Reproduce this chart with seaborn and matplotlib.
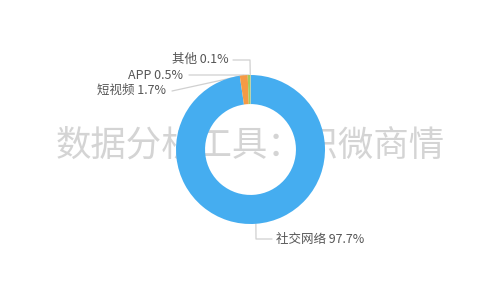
import numpy as np
import matplotlib
matplotlib.use("Agg")
import matplotlib.pyplot as plt
import seaborn as sns

categories = ["社交网络", "短视频", "APP", "其他"]
values = [97.7, 1.7, 0.5, 0.1]
colors = ["#45ADF0", "#F59A45", "#A3CB5C", "#E8D15A"]
watermark = "数据分析工具：识微商情"

sns.set_theme(style="white")
plt.rcParams["font.family"] = ["Noto Sans CJK SC", "DejaVu Sans"]

W, H = 500, 300
fig = plt.figure(figsize=(5, 3), dpi=100)
ax = fig.add_axes([0, 0, 1, 1])
R = 74.5
cx, cy = 250.5, 149.5  # pixel centre (from top)

def P(px, py):
    return ((px - cx) / R, (cy - py) / R)

wedges, _ = ax.pie(values, colors=colors, startangle=90, counterclock=False,
                   radius=1.0, wedgeprops=dict(width=0.39, linewidth=0, zorder=3),
                   normalize=True)

ax.set_xlim(-cx / R, (W - cx) / R)
ax.set_ylim(-(H - cy) / R, cy / R)
ax.set_aspect("auto")
ax.axis("off")

# label layout (pixel positions of bends / text)
layout = {
    "社交网络": dict(pts=[(256, 239), (272, 239)], text=(276, 239), ha="left"),
    "短视频": dict(pts=[(172, 91)], text=(166, 90), ha="right"),
    "APP": dict(pts=[(189, 75)], text=(183, 75), ha="right"),
    "其他": dict(pts=[(250, 60), (233, 60)], text=(229, 59), ha="right"),
}

for w, cat, v in zip(wedges, categories, values):
    mid = np.deg2rad((w.theta1 + w.theta2) / 2)
    ax0 = (np.cos(mid), np.sin(mid))
    lay = layout[cat]
    pts = [ax0] + [P(*p) for p in lay["pts"]]
    xs, ys = zip(*pts)
    ax.plot(xs, ys, color="#d0d0d0", lw=0.9, zorder=2)
    tx, ty = P(*lay["text"])
    ax.text(tx, ty, f"{cat} {v}%", ha=lay["ha"], va="center",
            fontsize=9, color="#555555", zorder=4)

wx, wy = P(250, 146)
ax.text(wx, wy, watermark, ha="center", va="center", fontsize=25.5,
        color="#d4d4d4", zorder=1)

fig.savefig("out.png", dpi=100, facecolor="white")
